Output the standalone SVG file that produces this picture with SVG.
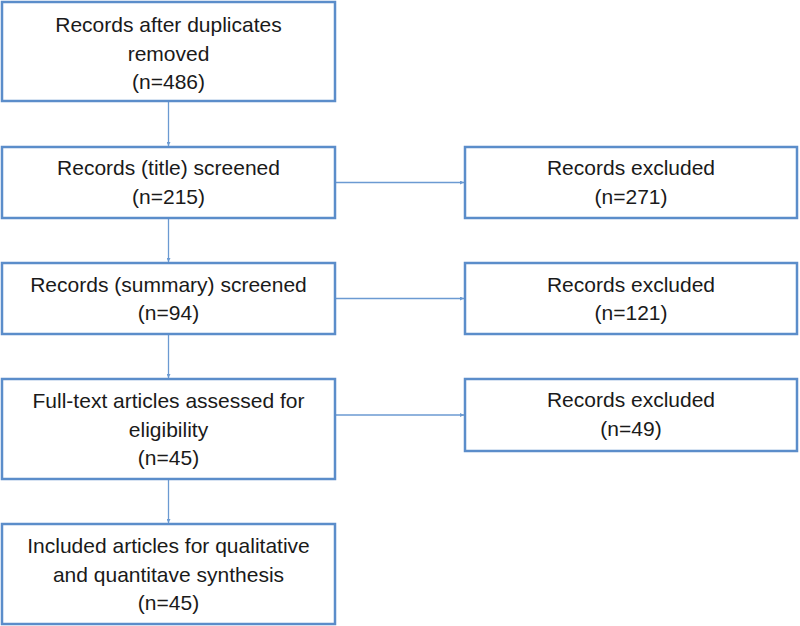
<svg xmlns="http://www.w3.org/2000/svg" width="800" height="626" viewBox="0 0 800 626">
<defs>
<style>
.box{fill:#fff;stroke:#5b8dca;stroke-width:2.5}
.t{font-family:"Liberation Sans",Arial,sans-serif;font-size:21px;fill:#1a1a1a;text-anchor:middle}
.c{stroke:#6b9ad2;stroke-width:1.3;fill:none;marker-end:url(#ah)}
</style>
<marker id="ah" viewBox="0 0 6 6" refX="6" refY="3" markerWidth="4" markerHeight="4" orient="auto" markerUnits="userSpaceOnUse">
<path d="M0,0 L6,3 L0,6 z" fill="#6b9ad2"/>
</marker>
</defs>
<rect width="800" height="626" fill="#fff"/>
<g id="connectors">
<line class="c" x1="168.5" y1="101" x2="168.5" y2="146"/>
<line class="c" x1="168.5" y1="218" x2="168.5" y2="262"/>
<line class="c" x1="168.5" y1="334" x2="168.5" y2="378"/>
<line class="c" x1="168.5" y1="479" x2="168.5" y2="523"/>
<line class="c" x1="335" y1="182.5" x2="464" y2="182.5"/>
<line class="c" x1="335" y1="298.5" x2="464" y2="298.5"/>
<line class="c" x1="335" y1="415" x2="464" y2="415"/>
</g>
<g id="n1">
<rect class="box" x="2" y="2" width="333" height="99"/>
<text class="t" x="168.5" y="32">Records after duplicates</text>
<text class="t" x="168.5" y="61">removed</text>
<text class="t" x="168.5" y="89">(n=486)</text>
</g>
<g id="n2">
<rect class="box" x="2" y="147" width="333" height="71"/>
<text class="t" x="168.5" y="175">Records (title) screened</text>
<text class="t" x="168.5" y="204">(n=215)</text>
</g>
<g id="n3">
<rect class="box" x="2" y="263" width="333" height="71"/>
<text class="t" x="168.5" y="292">Records (summary) screened</text>
<text class="t" x="168.5" y="320">(n=94)</text>
</g>
<g id="n4">
<rect class="box" x="2" y="379" width="333" height="100"/>
<text class="t" x="168.5" y="408">Full-text articles assessed for</text>
<text class="t" x="168.5" y="437">eligibility</text>
<text class="t" x="168.5" y="465">(n=45)</text>
</g>
<g id="n5">
<rect class="box" x="2" y="524" width="333" height="100"/>
<text class="t" x="168.5" y="553">Included articles for qualitative</text>
<text class="t" x="168.5" y="582">and quantitave synthesis</text>
<text class="t" x="168.5" y="610">(n=45)</text>
</g>
<g id="r1">
<rect class="box" x="465" y="147" width="332" height="71"/>
<text class="t" x="631" y="175">Records excluded</text>
<text class="t" x="631" y="204">(n=271)</text>
</g>
<g id="r2">
<rect class="box" x="465" y="263" width="332" height="71"/>
<text class="t" x="631" y="292">Records excluded</text>
<text class="t" x="631" y="320">(n=121)</text>
</g>
<g id="r3">
<rect class="box" x="465" y="379" width="332" height="72"/>
<text class="t" x="631" y="407">Records excluded</text>
<text class="t" x="631" y="436">(n=49)</text>
</g>
</svg>
